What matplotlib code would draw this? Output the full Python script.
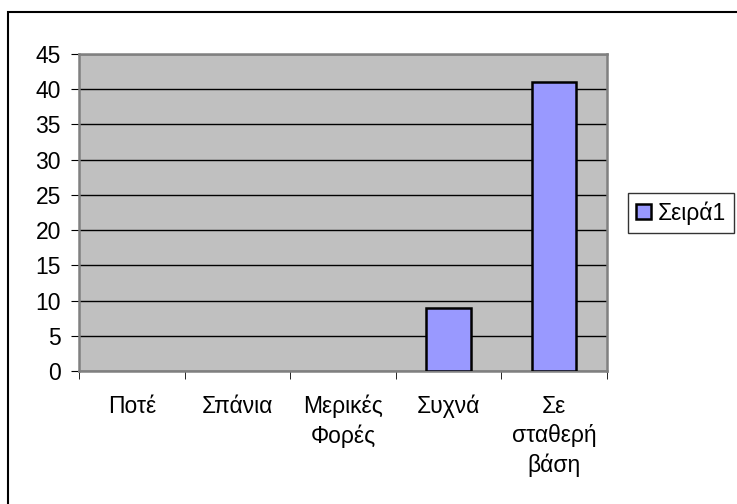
import matplotlib
matplotlib.use("Agg")
import matplotlib.pyplot as plt
from matplotlib.patches import Rectangle

categories = ["Ποτέ", "Σπάνια", "Μερικές\nΦορές", "Συχνά", "Σε\nσταθερή\nβάση"]
values = [0, 0, 0, 9, 41]
series_name = "Σειρά1"
yticks = list(range(0, 50, 5))

plt.rcParams["font.family"] = ["Liberation Sans", "DejaVu Sans"]
FS = 16.5

W, H = 737, 504
fig = plt.figure(figsize=(W / 100, H / 100), dpi=100)

# chart-area frame (only top and left edges fall inside the canvas)
fig.add_artist(Rectangle((8 / W, -0.1), 1.2, 1 - 12 / H + 0.1, transform=fig.transFigure,
                         fill=False, edgecolor="#000000", linewidth=1.5))

ax = fig.add_axes([79 / W, 1 - 371 / H, (607 - 79) / W, (371 - 54) / H])
ax.set_facecolor("#C0C0C0")
x = list(range(len(categories)))
edges = ["#000000" if v > 0 else "none" for v in values]
ax.bar(x, values, width=0.42, color="#9999FF", edgecolor=edges, linewidth=1.8,
       label=series_name, zorder=3)

ax.set_xlim(-0.5, len(categories) - 0.5)
ax.set_ylim(0, 45)
ax.set_yticks(yticks)
ax.set_yticklabels([str(v) for v in yticks], fontsize=FS)
ax.yaxis.grid(True, color="#000000", linewidth=1.0, zorder=1)
ax.set_axisbelow(True)

ax.set_xticks(x)
ax.set_xticklabels(categories, fontsize=FS, linespacing=1.35, va="top")
ax.tick_params(axis="x", length=0, pad=17)
ax.set_xticks([i + 0.5 for i in range(-1, len(categories))], minor=True)
ax.tick_params(axis="x", which="minor", length=6, color="#000000", direction="out")
ax.tick_params(axis="y", length=6, color="#000000", direction="out", pad=7)

for side in ["top", "right", "left", "bottom"]:
    ax.spines[side].set_color("#808080")
    ax.spines[side].set_linewidth(1.8)

leg = fig.legend(loc="center left", bbox_to_anchor=(628 / W, 1 - 213 / H), fontsize=FS,
                 frameon=True, fancybox=False, edgecolor="#000000", handlelength=0.65,
                 handleheight=0.65, handletextpad=0.3, borderpad=0.35, borderaxespad=0)
leg.get_frame().set_linewidth(1.0)
for h in leg.legend_handles:
    h.set_edgecolor("#000000")
    h.set_linewidth(1.8)

fig.savefig("out.png", dpi=100)
